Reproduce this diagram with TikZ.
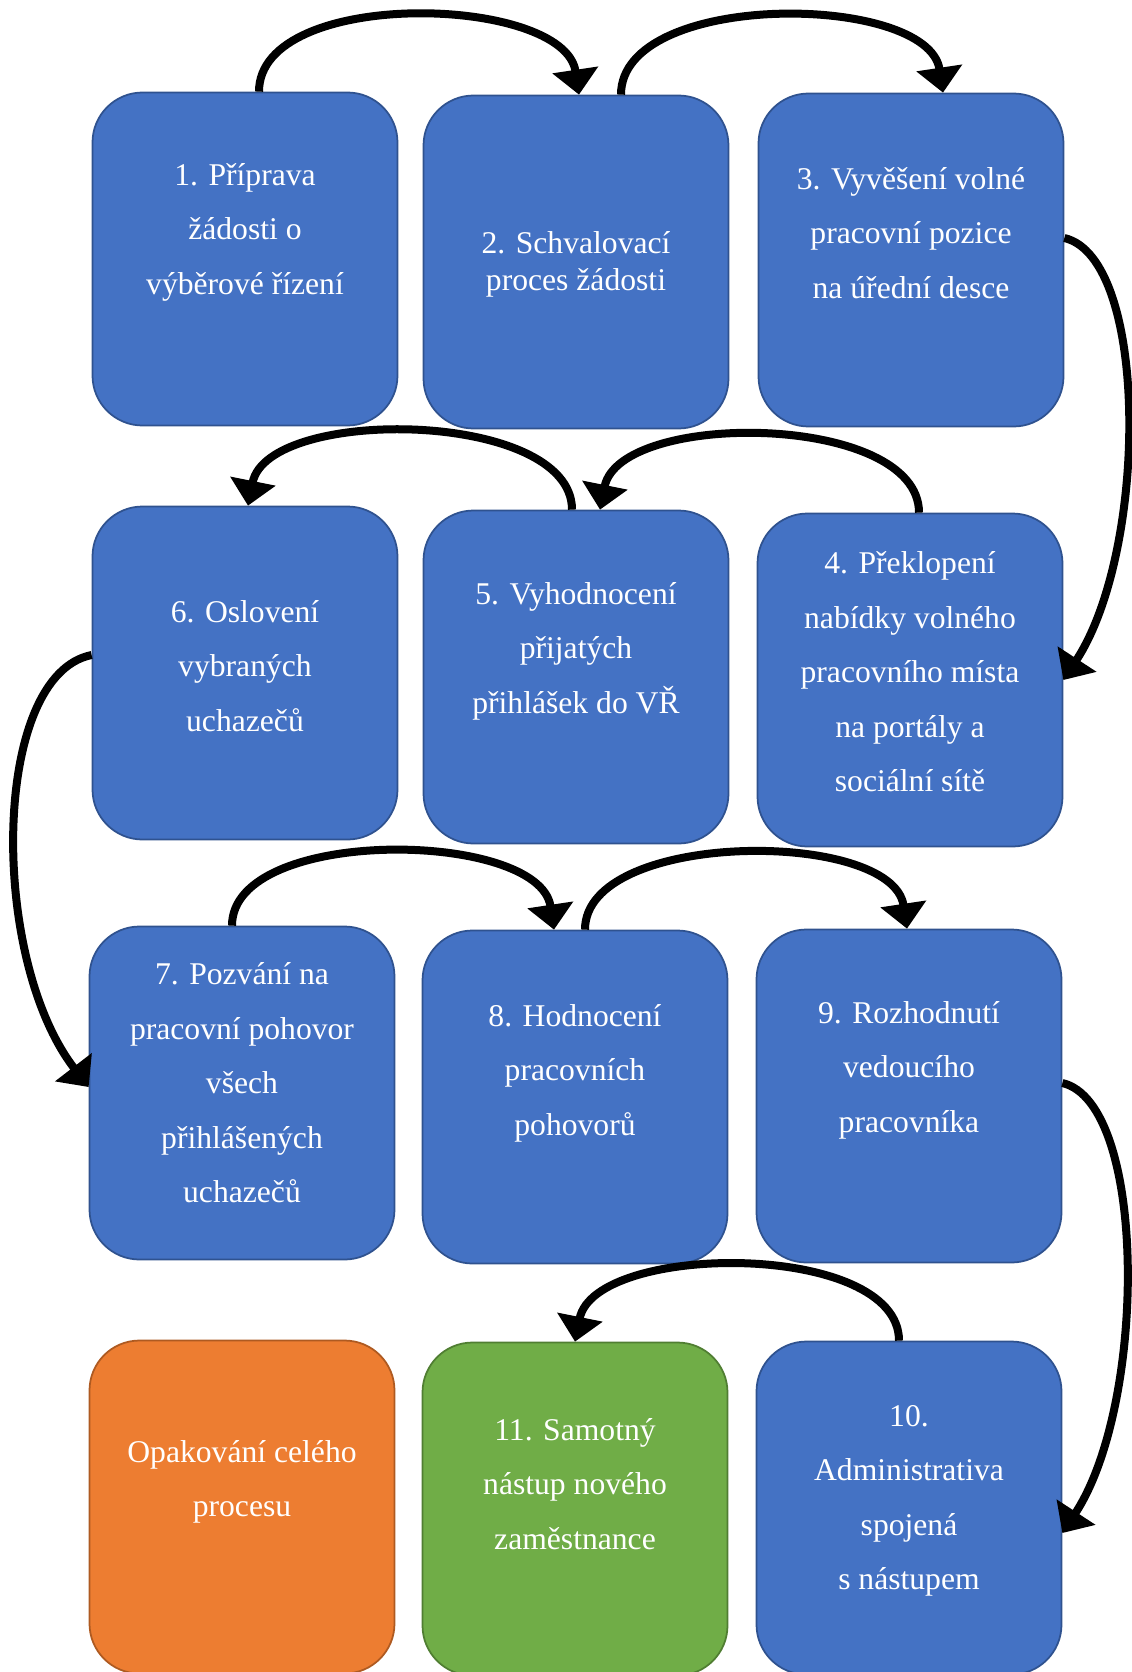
\documentclass[tikz,border=0pt]{standalone}
\usepackage{fontspec}
\setmainfont{Liberation Serif}
\usepackage{xcolor}
\usepackage{tikz}
\usetikzlibrary{shapes,arrows.meta,calc}

\definecolor{cBlue}{HTML}{4472C4}
\definecolor{cBlueLine}{HTML}{2F528F}
\definecolor{cOrange}{HTML}{ED7D31}
\definecolor{cOrangeLine}{HTML}{AE5A21}
\definecolor{cGreen}{HTML}{70AD47}
\definecolor{cGreenLine}{HTML}{507E32}

\tikzstyle{tsBox} = [ 
    rectangle,
    rounded corners=1cm,
    minimum width=6.1cm,
    minimum height=6.66cm,
    draw=cBlueLine,
    fill=cBlue,
    line width=0.35mm]
\tikzstyle{tsText} = [ 
    text=white, 
    align=center,
    font=\fontsize{18}{31}\selectfont]
\tikzstyle{tsArrow} = [ 
    draw=black,
    line width=1.6mm,
    -{Triangle[width=9mm,length=5mm]}]

\begin{document}
\begin{tikzpicture}[x=0.2mm, y=-0.2mm]
        
        \useasboundingbox (0,0) rectangle (1131,1672);
        
        % boxes
        \node[tsBox] (box1) at (245,259) { };
        \node[tsBox] (box2) at (576,262) { };
        \node[tsBox] (box3) at (911,260) { };
        \node[tsBox] (box6) at (245,673) { };
        \node[tsBox] (box5) at (576,677) { };
        \node[tsBox] (box4) at (910,680) { };
        \node[tsBox] (box7) at (242,1093) { };
        \node[tsBox] (box8) at (575,1097) { };
        \node[tsBox] (box9) at (909,1096) { };
        \node[tsBox, draw=cOrangeLine, fill=cOrange] (boxRepeat) at (242,1507) { };
        \node[tsBox, draw=cGreenLine, fill=cGreen] (box11) at (575,1509) { };
        \node[tsBox] (box10) at (909,1508) { };
        
        \node[tsText] (txt1) at (245,232) {1. Příprava\\žádosti o\\výběrové řízení};
        \node[tsText, font=\fontsize{18}{21}\selectfont] (txt2) at (576,264) {2. Schvalovací\\proces žádosti};
        \node[tsText] (txt3) at (911,233) {3. Vyvěšení volné\\pracovní pozice\\na úřední desce};
        \node[tsText] (txt4) at (910,672) {4. Překlopení\\nabídky volného\\pracovního místa\\na portály a\\sociální sítě};
        \node[tsText] (txt5) at (576,651) {5. Vyhodnocení\\přijatých\\přihlášek do VŘ};
        \node[tsText] (txt6) at (245,666) {6. Oslovení\\vybraných\\uchazečů};
        \node[tsText] (txt7) at (242,1083) {7. Pozvání na\\pracovní pohovor\\všech\\přihlášených\\uchazečů};
        \node[tsText] (txt8) at (575,1073) {8. Hodnocení\\pracovních\\pohovorů};
        \node[tsText] (txt9) at (909,1070) {9. Rozhodnutí\\vedoucího\\pracovníka};
        \node[tsText] (txt10) at (909,1501) {10.\\Administrativa\\spojená\\s~nástupem};
        \node[tsText] (txt11) at (575,1484) {11. Samotný\\nástup nového\\zaměstnance};
        \node[tsText] (txtRepeat) at (242,1482) {Opakování celého\\procesu};
        
        % arrows
        \draw[tsArrow] ($(box1.north)+(14,0)$) .. controls +(0,-105) and +(-15,-100) .. ($(box2.north)+(3,0)$);
        \draw[tsArrow] ($(box2.north)+(45,0)$) .. controls +(0,-105) and +(-15,-100) .. ($(box3.north)+(32,0)$);
        \draw[tsArrow] ($(box3.east)+(0,-22)$) .. controls +(85,20) and +(85,-130) .. (box4.east);
        \draw[tsArrow] ($(box4.north)+(9,0)$) .. controls +(0,-100) and +(20,-100) .. ($(box5.north)+(24,0)$);
        \draw[tsArrow] ($(box5.north)+(-4,0)$) .. controls +(0,-100) and +(20,-100) .. ($(box6.north)+(3,0)$);
        \draw[tsArrow] ($(box6.west)+(0,-18)$) .. controls +(-100,20) and +(-100,-130) .. ($(box7.west)+(0,-6)$);
        \draw[tsArrow] ($(box7.north)+(-10,0)$) .. controls +(0,-100) and +(-15,-100) .. ($(box8.north)+(-21,0)$);
        \draw[tsArrow] ($(box8.north)+(10,0)$) .. controls +(0,-100) and +(-15,-100) .. ($(box9.north)+(-2,0)$);
        \draw[tsArrow] ($(box9.east)+(0,-13)$) .. controls +(85,20) and +(85,-130) .. ($(box10.east)+(0,25)$);
        \draw[tsArrow] ($(box10.north)+(-10,0)$) .. controls +(0,-100) and +(20,-100) .. (box11.north);
        
\end{tikzpicture}
\end{document}
